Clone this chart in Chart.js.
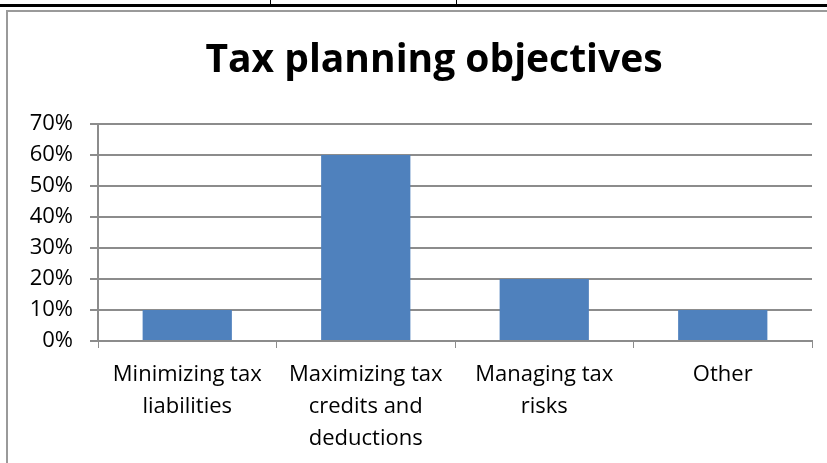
<!DOCTYPE html>
<html lang="en">
<head>
    <meta charset="UTF-8">
    <title>Tax planning objectives</title>
    <script src="https://cdn.jsdelivr.net/npm/chart.js"></script>
    <style>
        body {
            margin: 0;
            width: 827px;
            height: 463px;
            overflow: hidden;
            background: #fff;
            position: relative;
            font-family: "Open Sans", Arial, sans-serif;
        }

        .rule-top {
            position: absolute;
            left: 0; top: 4px;
            width: 827px; height: 3px;
            background: #000;
        }

        .rule-tick {
            position: absolute;
            top: 0; width: 1px; height: 5px;
            background: #000;
        }

        .frame {
            position: absolute;
            left: 6px; top: 10px;
            width: 830px; height: 460px;
            border-top: 2px solid #9a9a9a;
            border-left: 2px solid #9a9a9a;
        }

        .chart-box {
            position: absolute;
            left: 8px; top: 12px;
            width: 819px; height: 451px;
        }

        /* title centred a little right of the canvas centre, like the original */
        .chart-title {
            position: absolute;
            left: 0; top: 34px;
            width: 868px;
            text-align: center;
            font-size: 39px;
            font-weight: bold;
            line-height: 1.2;
            color: #000;
            white-space: nowrap;
        }
    </style>
</head>
<body>
    <div class="rule-top"></div>
    <div class="rule-tick" style="left:270px"></div>
    <div class="rule-tick" style="left:456px"></div>
    <div class="frame"></div>
    <div class="chart-box">
        <canvas id="taxChart" width="819" height="451"></canvas>
    </div>
    <div class="chart-title">Tax planning objectives</div>

    <script>
        const categories = [
            ["Minimizing tax", "liabilities"],
            ["Maximizing tax", "credits and", "deductions"],
            ["Managing tax", "risks"],
            "Other"
        ];
        const shares = [10, 60, 20, 10];
        const yTicks = [0, 10, 20, 30, 40, 50, 60, 70];

        const gridColor = "#8c8c8c";

        new Chart(document.getElementById("taxChart"), {
            type: "bar",
            data: {
                labels: categories,
                datasets: [{
                    data: shares,
                    backgroundColor: "#4f81bd",
                    barPercentage: 0.5,
                    categoryPercentage: 1.0
                }]
            },
            options: {
                responsive: false,
                animation: false,
                layout: { padding: { left: 0, right: 15, top: 112, bottom: 0 } },
                plugins: {
                    legend: { display: false },
                    tooltip: { enabled: false },
                    title: { display: false }
                },
                scales: {
                    x: {
                        grid: { display: true, drawOnChartArea: false, color: gridColor, tickLength: 7, offset: true },
                        border: { color: gridColor, width: 2 },
                        ticks: {
                            color: "#000",
                            maxRotation: 0,
                            autoSkip: false,
                            padding: 11,
                            font: { family: "Open Sans", size: 22, lineHeight: 1.45 }
                        },
                        afterFit: (s) => { s.height = 122; }
                    },
                    y: {
                        min: 0,
                        max: 70,
                        afterBuildTicks: (s) => { s.ticks = yTicks.map(v => ({ value: v })); },
                        grid: { color: gridColor, lineWidth: 2, tickLength: 8 },
                        border: { color: gridColor, width: 2 },
                        ticks: {
                            color: "#000",
                            padding: 17,
                            font: { family: "Open Sans", size: 22 },
                            callback: (v) => v + "%"
                        },
                        afterFit: (s) => { s.width = 90; }
                    }
                }
            }
        });
    </script>
</body>
</html>
